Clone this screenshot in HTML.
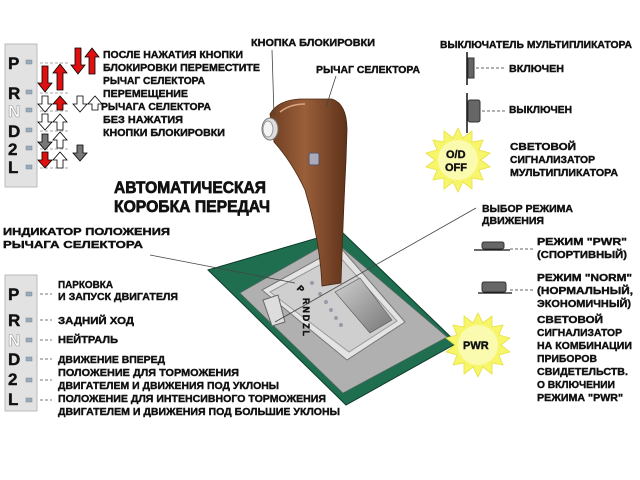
<!DOCTYPE html>
<html><head><meta charset="utf-8"><style>
html,body{margin:0;padding:0;background:#fff;width:640px;height:480px;overflow:hidden}
text{font-family:"Liberation Sans","DejaVu Sans",sans-serif;font-weight:bold;fill:#111;stroke:#111;stroke-width:0.4}
</style></head><body>
<svg width="640" height="480" viewBox="0 0 640 480" xmlns="http://www.w3.org/2000/svg">
<defs>
<linearGradient id="br" x1="0" x2="1"><stop offset="0" stop-color="#6e3f22"/><stop offset="0.45" stop-color="#9a5f3a"/><stop offset="1" stop-color="#5e321a"/></linearGradient>
<linearGradient id="sl" x1="0" y1="0" x2="1" y2="1"><stop offset="0" stop-color="#cfcfcf"/><stop offset="1" stop-color="#777"/></linearGradient>
</defs>
<!-- top-left panel -->
<rect x="5" y="44" width="32" height="143" fill="#e2e2e2" stroke="#bbb"/>
<g font-size="17">
<text x="8" y="69">P</text><text x="8" y="99">R</text><text x="8" y="117" style="fill:#fff;stroke:#999;stroke-width:0.6">N</text><text x="8" y="137">D</text><text x="8" y="155">2</text><text x="8" y="173">L</text>
</g>
<g fill="#9ab" stroke="#789" stroke-width="0.5">
<rect x="26" y="60" width="6" height="4"/><rect x="26" y="90" width="6" height="4"/><rect x="26" y="108" width="6" height="4"/><rect x="26" y="128" width="6" height="4"/><rect x="26" y="146" width="6" height="4"/><rect x="26" y="165" width="6" height="4"/>
</g>
<g stroke="#888" stroke-dasharray="3,2" stroke-width="0.8">
<line x1="40" y1="63" x2="68" y2="63"/><line x1="40" y1="93" x2="68" y2="93"/><line x1="40" y1="111" x2="68" y2="111"/><line x1="40" y1="131" x2="68" y2="131"/><line x1="40" y1="149" x2="68" y2="149"/><line x1="40" y1="168" x2="68" y2="168"/>
</g>
<!-- arrows -->
<g stroke="#000" stroke-width="0.8">
<path d="M42 66h6v17h4l-7 9l-7-9h4z" fill="#e01010"/>
<path d="M57 90h6v-17h4l-7-9l-7 9h4z" fill="#e01010"/>
<path d="M75 48h6v17h4l-7 9l-7-9h4z" fill="#e01010"/>
<path d="M89 74h6v-17h4l-7-9l-7 9h4z" fill="#e01010"/>
<path d="M42 96h6v8h4l-7 8l-7-8h4z" fill="#fff"/>
<path d="M57 110h6v-6h4l-7-8l-7 8h4z" fill="#e01010"/>
<path d="M77 96h6v8h4l-7 8l-7-8h4z" fill="#fff"/>
<path d="M92 110h6v-6h4l-7-8l-7 8h4z" fill="#fff"/>
<path d="M42 114h6v8h4l-7 8l-7-8h4z" fill="#fff"/>
<path d="M57 130h6v-8h4l-7-8l-7 8h4z" fill="#fff"/>
<path d="M42 134h6v8h4l-7 8l-7-8h4z" fill="#777"/>
<path d="M57 148h6v-8h4l-7-8l-7 8h4z" fill="#fff"/>
<path d="M77 145h6v8h4l-7 8l-7-8h4z" fill="#777"/>
<path d="M42 152h6v8h4l-7 8l-7-8h4z" fill="#e01010"/>
<path d="M57 168h6v-8h4l-7-8l-7 8h4z" fill="#fff"/>
</g>
<g font-size="10.5">
<text x="103" y="58" textLength="140" lengthAdjust="spacingAndGlyphs">ПОСЛЕ НАЖАТИЯ КНОПКИ</text>
<text x="103" y="71" textLength="157" lengthAdjust="spacingAndGlyphs">БЛОКИРОВКИ ПЕРЕМЕСТИТЕ</text>
<text x="103" y="84" textLength="102" lengthAdjust="spacingAndGlyphs">РЫЧАГ СЕЛЕКТОРА</text>
<text x="103" y="97" textLength="85" lengthAdjust="spacingAndGlyphs">ПЕРЕМЕЩЕНИЕ</text>
<text x="101" y="110" textLength="110" lengthAdjust="spacingAndGlyphs">РЫЧАГА СЕЛЕКТОРА</text>
<text x="103" y="123" textLength="80" lengthAdjust="spacingAndGlyphs">БЕЗ НАЖАТИЯ</text>
<text x="103" y="136" textLength="122" lengthAdjust="spacingAndGlyphs">КНОПКИ БЛОКИРОВКИ</text>
</g>
<g font-size="16.5">
<text x="114" y="193" textLength="152" lengthAdjust="spacingAndGlyphs" style="stroke-width:0.7">АВТОМАТИЧЕСКАЯ</text>
<text x="114" y="212" textLength="156" lengthAdjust="spacingAndGlyphs" style="stroke-width:0.7">КОРОБКА ПЕРЕДАЧ</text>
</g>
<g font-size="10.5">
<text x="251" y="46" textLength="124" lengthAdjust="spacingAndGlyphs">КНОПКА БЛОКИРОВКИ</text>
<text x="316" y="73" textLength="104" lengthAdjust="spacingAndGlyphs">РЫЧАГ СЕЛЕКТОРА</text>
<text x="3" y="235" textLength="167" lengthAdjust="spacingAndGlyphs">ИНДИКАТОР ПОЛОЖЕНИЯ</text>
<text x="3" y="248" textLength="140" lengthAdjust="spacingAndGlyphs">РЫЧАГА СЕЛЕКТОРА</text>
</g>
<!-- platform -->
<polygon points="208,270 341,231 457,343 346,405" fill="#1f6e50" stroke="#0e3b2a"/>
<polygon points="240,293 333,240 447,337 343,393" fill="#b0b0b0" stroke="#666" stroke-width="0.6"/>
<polygon points="262,290 340,247 405,322 347,360" fill="#e4e4e4" stroke="#777"/>
<polygon points="270,292 338,255 397,321 349,352" fill="#cfcfcf" stroke="#999"/>
<polygon points="335,292 360,278 392,320 370,333" fill="url(#sl)" stroke="#555" stroke-width="0.6"/>
<polygon points="263,300 278,295 285,322 272,326" fill="#ddd" stroke="#666"/>
<g><circle cx="312" cy="283" r="2" fill="#99a"/><circle cx="320" cy="294" r="2" fill="#99a"/><circle cx="326" cy="302" r="2" fill="#99a"/><circle cx="331" cy="310" r="2" fill="#99a"/><circle cx="336" cy="318" r="2" fill="#99a"/><circle cx="341" cy="325" r="2" fill="#99a"/></g>
<text x="298" y="293" font-size="9" transform="rotate(45 302 289)">P</text>
<text x="303" y="306" font-size="9" transform="rotate(90 307 302)" textLength="38">RNDZL</text>
<!-- lever -->
<path d="M270 114 Q278 100 300 99 L332 99 Q347 104 347 130 L346 160 Q343 220 341 283 L322 286 Q320 240 305 190 Q292 162 274 142 Z" fill="url(#br)" stroke="#4a2812" stroke-width="0.8"/>
<path d="M280 112 Q290 104 305 104" stroke="#d9a57f" stroke-width="1.5" fill="none"/>
<rect x="309" y="153" width="10" height="12" rx="2" fill="#aab" stroke="#556"/>
<ellipse cx="270" cy="129" rx="8" ry="11" fill="#ddd" stroke="#777"/>
<ellipse cx="268" cy="129" rx="5" ry="8" fill="#f4f4f4" stroke="#999"/>
<!-- leader lines -->
<g stroke="#444" stroke-width="0.8" fill="none">
<line x1="272" y1="50" x2="274" y2="115"/>
<line x1="336" y1="76" x2="326" y2="107"/>
<line x1="150" y1="255" x2="295" y2="283"/>
<line x1="476" y1="208" x2="275" y2="322"/>
</g>
<!-- right side -->
<g font-size="10.5">
<text x="440" y="48" textLength="192" lengthAdjust="spacingAndGlyphs">ВЫКЛЮЧАТЕЛЬ МУЛЬТИПЛИКАТОРА</text>
<text x="509" y="72" textLength="55" lengthAdjust="spacingAndGlyphs">ВКЛЮЧЕН</text>
<text x="509" y="113" textLength="63" lengthAdjust="spacingAndGlyphs">ВЫКЛЮЧЕН</text>
<text x="510" y="150" textLength="66" lengthAdjust="spacingAndGlyphs">СВЕТОВОЙ</text>
<text x="510" y="163" textLength="85" lengthAdjust="spacingAndGlyphs">СИГНАЛИЗАТОР</text>
<text x="510" y="176" textLength="108" lengthAdjust="spacingAndGlyphs">МУЛЬТИПЛИКАТОРА</text>
<text x="482" y="212" textLength="91" lengthAdjust="spacingAndGlyphs">ВЫБОР РЕЖИМА</text>
<text x="482" y="224" textLength="62" lengthAdjust="spacingAndGlyphs">ДВИЖЕНИЯ</text>
<text x="537" y="245" textLength="90" lengthAdjust="spacingAndGlyphs">РЕЖИМ "PWR"</text>
<text x="537" y="258" textLength="90" lengthAdjust="spacingAndGlyphs">(СПОРТИВНЫЙ)</text>
<text x="537" y="281" textLength="95" lengthAdjust="spacingAndGlyphs">РЕЖИМ "NORM"</text>
<text x="537" y="294" textLength="96" lengthAdjust="spacingAndGlyphs">(НОРМАЛЬНЫЙ,</text>
<text x="537" y="307" textLength="94" lengthAdjust="spacingAndGlyphs">ЭКОНОМИЧНЫЙ)</text>
<text x="537" y="323" textLength="66" lengthAdjust="spacingAndGlyphs">СВЕТОВОЙ</text>
<text x="537" y="336" textLength="85" lengthAdjust="spacingAndGlyphs">СИГНАЛИЗАТОР</text>
<text x="537" y="349" textLength="95" lengthAdjust="spacingAndGlyphs">НА КОМБИНАЦИИ</text>
<text x="537" y="362" textLength="60" lengthAdjust="spacingAndGlyphs">ПРИБОРОВ</text>
<text x="537" y="375" textLength="91" lengthAdjust="spacingAndGlyphs">СВИДЕТЕЛЬСТВ.</text>
<text x="537" y="388" textLength="78" lengthAdjust="spacingAndGlyphs">О ВКЛЮЧЕНИИ</text>
<text x="537" y="401" textLength="86" lengthAdjust="spacingAndGlyphs">РЕЖИМА "PWR"</text>
</g>
<line x1="467" y1="52" x2="467" y2="85" stroke="#111" stroke-width="1.5"/>
<rect x="468" y="58" width="6" height="20" fill="#666" stroke="#333"/>
<line x1="467" y1="93" x2="467" y2="133" stroke="#111" stroke-width="1.5"/>
<rect x="468" y="100" width="12" height="22" rx="2" fill="#666" stroke="#333"/>
<g stroke="#666" stroke-dasharray="3,2"><line x1="476" y1="68" x2="505" y2="68"/><line x1="482" y1="111" x2="505" y2="111"/><line x1="510" y1="249" x2="533" y2="249"/><line x1="510" y1="290" x2="533" y2="290"/></g>
<rect x="482" y="242" width="22" height="7" rx="2" fill="#666" stroke="#333"/>
<line x1="474" y1="250" x2="510" y2="250" stroke="#111" stroke-width="1.2"/>
<rect x="482" y="282" width="24" height="10" rx="2" fill="#666" stroke="#333"/>
<line x1="478" y1="293" x2="512" y2="293" stroke="#111" stroke-width="1.2"/>
<!-- bursts -->
<g fill="#f7f56a" stroke="#e8e040" stroke-width="0.8">
<polygon id="b1" points="458,128 463,138 472,131 472,142 483,140 479,150 490,153 481,160 490,167 479,170 483,180 472,178 472,189 463,182 458,192 453,182 444,189 444,178 433,180 437,170 426,167 435,160 426,153 437,150 433,140 444,142 444,131 453,138"/>
<g transform="translate(20,185)"><use href="#b1"/></g>
</g>
<circle cx="458" cy="160" r="20" fill="#fbfbb0"/>
<circle cx="478" cy="345" r="20" fill="#fbfbb0"/>
<text x="446" y="158" font-size="11">O/D</text>
<text x="445" y="171" font-size="11">OFF</text>
<text x="463" y="349" font-size="11">PWR</text>
<!-- bottom-left panel -->
<rect x="5" y="275" width="32" height="136" fill="#e2e2e2" stroke="#bbb"/>
<g font-size="17">
<text x="8" y="300">P</text><text x="8" y="326">R</text><text x="8" y="346" style="fill:#fff;stroke:#999;stroke-width:0.6">N</text><text x="8" y="365">D</text><text x="8" y="385">2</text><text x="8" y="405">L</text>
</g>
<g fill="#9ab" stroke="#789" stroke-width="0.5">
<rect x="26" y="292" width="6" height="4"/><rect x="26" y="318" width="6" height="4"/><rect x="26" y="338" width="6" height="4"/><rect x="26" y="357" width="6" height="4"/><rect x="26" y="378" width="6" height="4"/><rect x="26" y="398" width="6" height="4"/>
</g>
<g stroke="#777" stroke-dasharray="3,2"><line x1="40" y1="294" x2="52" y2="294"/><line x1="40" y1="320" x2="52" y2="320"/><line x1="40" y1="340" x2="52" y2="340"/><line x1="40" y1="359" x2="52" y2="359"/><line x1="40" y1="380" x2="52" y2="380"/><line x1="40" y1="400" x2="52" y2="400"/></g>
<g font-size="10.5">
<text x="58" y="288" textLength="55" lengthAdjust="spacingAndGlyphs">ПАРКОВКА</text>
<text x="58" y="300" textLength="120" lengthAdjust="spacingAndGlyphs">И ЗАПУСК ДВИГАТЕЛЯ</text>
<text x="58" y="324" textLength="76" lengthAdjust="spacingAndGlyphs">ЗАДНИЙ ХОД</text>
<text x="58" y="343" textLength="60" lengthAdjust="spacingAndGlyphs">НЕЙТРАЛЬ</text>
<text x="58" y="363" textLength="107" lengthAdjust="spacingAndGlyphs">ДВИЖЕНИЕ ВПЕРЕД</text>
<text x="58" y="376" textLength="181" lengthAdjust="spacingAndGlyphs">ПОЛОЖЕНИЕ ДЛЯ ТОРМОЖЕНИЯ</text>
<text x="58" y="389" textLength="221" lengthAdjust="spacingAndGlyphs">ДВИГАТЕЛЕМ И ДВИЖЕНИЯ ПОД УКЛОНЫ</text>
<text x="58" y="402" textLength="268" lengthAdjust="spacingAndGlyphs">ПОЛОЖЕНИЕ ДЛЯ ИНТЕНСИВНОГО ТОРМОЖЕНИЯ</text>
<text x="58" y="415" textLength="282" lengthAdjust="spacingAndGlyphs">ДВИГАТЕЛЕМ И ДВИЖЕНИЯ ПОД БОЛЬШИЕ УКЛОНЫ</text>
</g>
</svg>
</body></html>
